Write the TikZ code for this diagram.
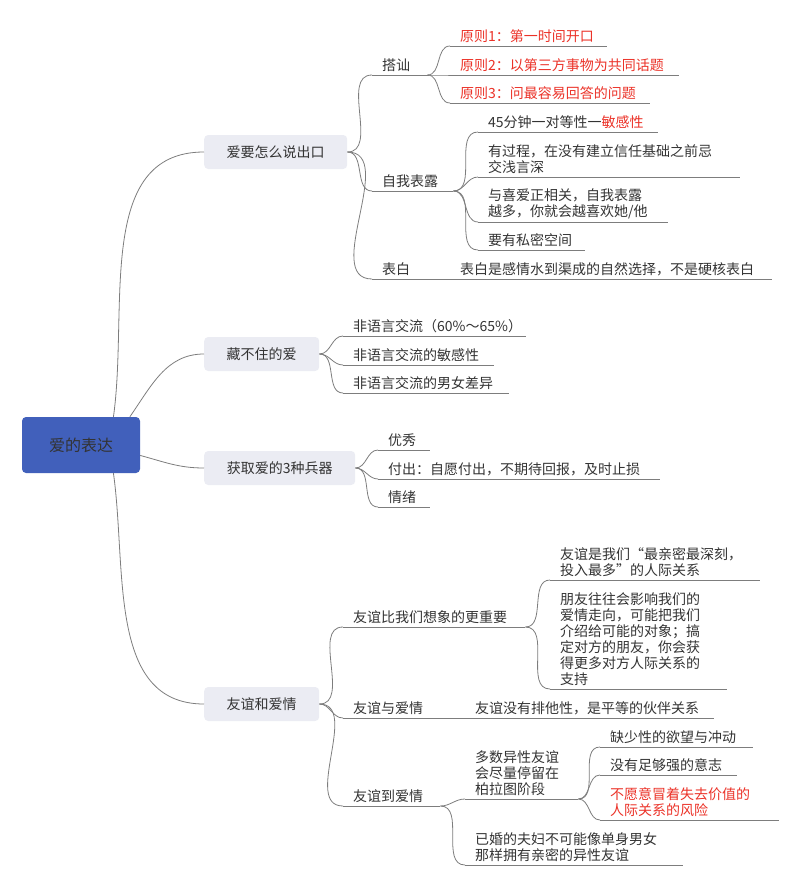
\documentclass[tikz,border=0pt]{standalone}
\usepackage{fontspec}
\setmainfont{Noto Sans CJK SC}

\definecolor{ink}{RGB}{51,51,51}
\definecolor{rootblue}{RGB}{65,96,187}
\definecolor{topicgray}{RGB}{235,236,243}
\definecolor{wirecol}{RGB}{125,125,125}
\definecolor{alert}{RGB}{235,50,40}

\tikzset{
  rootbox/.style={fill=rootblue, rounded corners=4pt, minimum width=118pt, minimum height=56pt,
    text=ink, font=\fontsize{16pt}{19pt}\selectfont},
  topicbox/.style={fill=topicgray, rounded corners=4pt, minimum height=34pt, anchor=west,
    text=ink, font=\fontsize{14pt}{16pt}\selectfont},
  leaf/.style={anchor=south west, inner xsep=10pt, inner ysep=2.8pt,
    align=left, text width=#1, text=ink, font=\fontsize{14pt}{16pt}\selectfont},
  wire/.style={draw=wirecol, line width=0.8pt},
}

\begin{document}
\begin{tikzpicture}[x=1pt, y=-1pt]
  \useasboundingbox (0,0) rectangle (800,888);

  % Root and main topics
  \node[rootbox] (root) at (81,445) {爱的表达};
  \node[topicbox, minimum width=143pt] (shuo) at (204,152) {爱要怎么说出口};
  \node[topicbox, minimum width=115pt] (cang) at (204,354) {藏不住的爱};
  \node[topicbox, minimum width=151pt] (huoqu) at (204,468) {获取爱的3种兵器};
  \node[topicbox, minimum width=115pt] (youyi) at (204,704) {友谊和爱情};

  % Branches of the first topic
  \node[leaf=35pt] (dashan) at (372,75) {搭讪};
  \node[leaf=61pt] (ziwo) at (372,191) {自我表露};
  \node[leaf=58pt] (biaobai) at (372,279) {表白};
  \node[leaf=302pt] (biaobaiA) at (450,279) {表白是感情水到渠成的自然选择，不是硬核表白};

  \node[leaf=137pt, text=alert] (yuanzeA) at (450,46) {原则1：第一时间开口};
  \node[leaf=209pt, text=alert] (yuanzeB) at (450,75) {原则2：以第三方事物为共同话题};
  \node[leaf=180pt, text=alert] (yuanzeC) at (450,103) {原则3：问最容易回答的问题};

  \node[leaf=160pt] (ziwoA) at (478,132) {45分钟一对等性一\textcolor{alert}{敏感性}};
  \node[leaf=242pt] (ziwoB) at (478,177) {有过程，在没有建立信任基础之前忌\\交浅言深};
  \node[leaf=170pt] (ziwoC) at (478,222) {与喜爱正相关，自我表露\\越多，你就会越喜欢她/他};
  \node[leaf=87pt] (ziwoD) at (478,250) {要有私密空间};

  % Branches of the second topic
  \node[leaf=163pt] (feiyuA) at (343,336) {非语言交流（60\%～65\%）};
  \node[leaf=131pt] (feiyuB) at (343,365) {非语言交流的敏感性};
  \node[leaf=146pt] (feiyuC) at (343,393) {非语言交流的男女差异};

  % Branches of the third topic
  \node[leaf=32pt] (bingqiA) at (378,450) {优秀};
  \node[leaf=262pt] (bingqiB) at (378,479) {付出：自愿付出，不期待回报，及时止损};
  \node[leaf=32pt] (bingqiC) at (378,507) {情绪};

  % Branches of the fourth topic
  \node[leaf=162pt] (youyiA) at (343,627) {友谊比我们想象的更重要};
  \node[leaf=102pt] (youyiB) at (343,718) {友谊与爱情};
  \node[leaf=77pt] (youyiC) at (343,806) {友谊到爱情};

  \node[leaf=190pt] (youyiAa) at (550,580) {友谊是我们“最亲密最深刻，\\投入最多”的人际关系};
  \node[leaf=157pt] (youyiAb) at (550,689) {朋友往往会影响我们的\\爱情走向，可能把我们\\介绍给可能的对象；搞\\定对方的朋友，你会获\\得更多对方人际关系的\\支持};
  \node[leaf=229pt] (youyiBa) at (465,718) {友谊没有排他性，是平等的伙伴关系};
  \node[leaf=93pt] (youyiCa) at (465,799) {多数异性友谊\\会尽量停留在\\柏拉图阶段};
  \node[leaf=198pt] (youyiCb) at (465,865) {已婚的夫妇不可能像单身男女\\那样拥有亲密的异性友谊};

  \node[leaf=133pt] (youyiCa1) at (600,747) {缺少性的欲望与冲动};
  \node[leaf=117pt] (youyiCa2) at (600,775) {没有足够强的意志};
  \node[leaf=159pt, text=alert] (youyiCa3) at (600,820) {不愿意冒着失去价值的\\人际关系的风险};

  % Root connectors
  \draw[wire] (root.41) to[out=82,in=180] (shuo.west);
  \draw[wire] (root.30) to[out=55,in=180] (cang.west);
  \draw[wire] (root.-10) to[out=-15,in=180] (huoqu.west);
  \draw[wire] (root.-41) to[out=-82,in=180] (youyi.west);

  % Connectors out of the topic boxes
  \foreach \a/\b in {shuo/dashan, shuo/ziwo, shuo/biaobai,
                     cang/feiyuA, cang/feiyuB, cang/feiyuC,
                     huoqu/bingqiA, huoqu/bingqiB, huoqu/bingqiC,
                     youyi/youyiA, youyi/youyiB, youyi/youyiC}
    \draw[wire] (\a.east) to[out=0,in=180] (\b.south west);

  % Connectors between underlined branches
  \foreach \a/\b in {dashan/yuanzeA, dashan/yuanzeB, dashan/yuanzeC,
                     ziwo/ziwoA, ziwo/ziwoB, ziwo/ziwoC, ziwo/ziwoD,
                     biaobai/biaobaiA,
                     youyiA/youyiAa, youyiA/youyiAb, youyiB/youyiBa,
                     youyiC/youyiCa, youyiC/youyiCb,
                     youyiCa/youyiCa1, youyiCa/youyiCa2, youyiCa/youyiCa3}
    \draw[wire] (\a.south east) to[out=0,in=180] (\b.south west);

  % Underlines
  \foreach \n in {dashan, ziwo, biaobai, biaobaiA, yuanzeA, yuanzeB, yuanzeC,
                  ziwoA, ziwoB, ziwoC, ziwoD, feiyuA, feiyuB, feiyuC,
                  bingqiA, bingqiB, bingqiC, youyiA, youyiB, youyiC,
                  youyiAa, youyiAb, youyiBa, youyiCa, youyiCb,
                  youyiCa1, youyiCa2, youyiCa3}
    \draw[wire] (\n.south west) -- (\n.south east);
\end{tikzpicture}
\end{document}
